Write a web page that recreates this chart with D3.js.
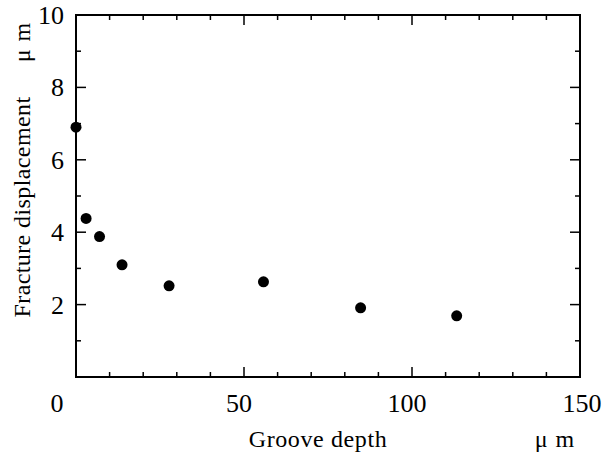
<!DOCTYPE html>
<html>
<head>
<meta charset="utf-8">
<script src="https://cdn.jsdelivr.net/npm/d3@7"></script>
<style>
body { margin:0; background:#fff; }
svg text { font-family:"Liberation Serif","Times New Roman",serif; fill:#000; }
</style>
</head>
<body>
<svg id="chart"></svg>
<script>
// groove depth (um) vs fracture displacement (um)
var depth = [0, 3, 7, 13.7, 27.7, 55.8, 84.7, 113.3]
var displacement = [6.9, 4.38, 3.88, 3.1, 2.52, 2.63, 1.91, 1.69]
var xTicks = [0, 50, 100, 150]
var yTicks = [2, 4, 6, 8, 10]

var screen = {width:605, height:456}
var margins = {top:15, right:25, bottom:79, left:76}
var width = screen.width - margins.left - margins.right
var height = screen.height - margins.top - margins.bottom

var svg = d3.select("#chart")
    .attr("width", screen.width)
    .attr("height", screen.height)

var graph = svg.append("g")
    .attr("transform", "translate(" + margins.left + "," + margins.top + ")")

var xScale = d3.scaleLinear().domain([0, 150]).range([0, width])
var yScale = d3.scaleLinear().domain([0, 10]).range([height, 0])

var minorX = d3.range(0, 151, 10)
var minorY = d3.range(0, 11, 1)

// frame
graph.append("rect")
    .attr("width", width)
    .attr("height", height)
    .attr("fill", "none")
    .attr("stroke", "#000")
    .attr("stroke-width", 2)

// inward ticks, all four sides
var tickLen = function(v, step) { return v % step === 0 ? 10 : 5 }

graph.append("g").selectAll("line").data(minorX).enter().append("line")
    .attr("x1", function(d){ return xScale(d) })
    .attr("x2", function(d){ return xScale(d) })
    .attr("y1", height)
    .attr("y2", function(d){ return height - tickLen(d, 50) })
    .attr("stroke", "#000").attr("stroke-width", 1.5)

graph.append("g").selectAll("line").data(minorX).enter().append("line")
    .attr("x1", function(d){ return xScale(d) })
    .attr("x2", function(d){ return xScale(d) })
    .attr("y1", 0)
    .attr("y2", function(d){ return tickLen(d, 50) })
    .attr("stroke", "#000").attr("stroke-width", 1.5)

graph.append("g").selectAll("line").data(minorY).enter().append("line")
    .attr("y1", function(d){ return yScale(d) })
    .attr("y2", function(d){ return yScale(d) })
    .attr("x1", 0)
    .attr("x2", function(d){ return tickLen(d, 2) })
    .attr("stroke", "#000").attr("stroke-width", 1.5)

graph.append("g").selectAll("line").data(minorY).enter().append("line")
    .attr("y1", function(d){ return yScale(d) })
    .attr("y2", function(d){ return yScale(d) })
    .attr("x1", width)
    .attr("x2", function(d){ return width - tickLen(d, 2) })
    .attr("stroke", "#000").attr("stroke-width", 1.5)

// tick labels
graph.append("g").selectAll("text").data(xTicks).enter().append("text")
    .attr("x", function(d){ return xScale(d) + (d === 0 ? -19 : (d === 150 ? 2 : -5)) })
    .attr("y", height + 35)
    .attr("text-anchor", "middle")
    .attr("font-size", 26)
    .text(function(d){ return d })

graph.append("g").selectAll("text").data(yTicks).enter().append("text")
    .attr("x", -12)
    .attr("y", function(d){ return yScale(d) + 9 })
    .attr("text-anchor", "end")
    .attr("font-size", 26)
    .text(function(d){ return d })

// points
graph.append("g").selectAll("circle")
    .data(depth.map(function(d, i){ return {x:d, y:displacement[i]} }))
    .enter().append("circle")
    .attr("cx", function(d){ return xScale(d.x) })
    .attr("cy", function(d){ return yScale(d.y) })
    .attr("r", 5.5)
    .attr("fill", "#000")

// axis titles
svg.append("text")
    .attr("x", 318).attr("y", 447)
    .attr("text-anchor", "middle")
    .attr("font-size", 24)
    .attr("letter-spacing", 0.6)
    .text("Groove depth")

svg.append("text")
    .attr("x", 555).attr("y", 447)
    .attr("text-anchor", "middle")
    .attr("font-size", 24)
    .attr("letter-spacing", 1)
    .text("\u03bc m")

svg.append("text")
    .attr("transform", "translate(30,207) rotate(-90)")
    .attr("text-anchor", "middle")
    .attr("font-size", 24)
    .attr("letter-spacing", 0.4)
    .text("Fracture displacement")

svg.append("text")
    .attr("transform", "translate(30,42) rotate(-90)")
    .attr("text-anchor", "middle")
    .attr("font-size", 24)
    .attr("letter-spacing", 1)
    .text("\u03bc m")
</script>
</body>
</html>
